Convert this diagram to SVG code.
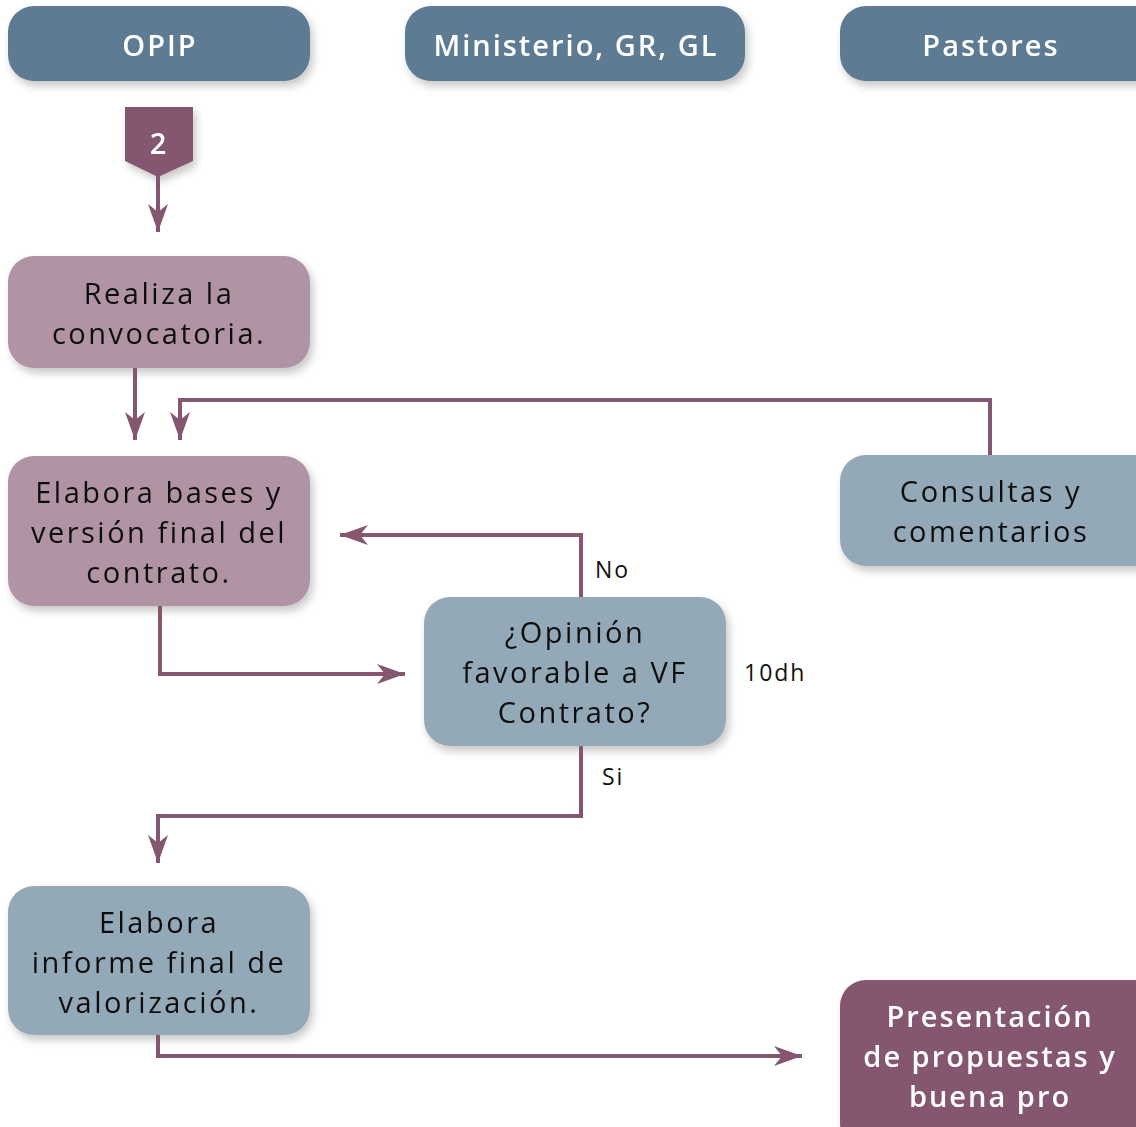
<svg xmlns="http://www.w3.org/2000/svg" width="1136" height="1127" viewBox="0 0 1136 1127">
  <defs>
    <filter id="shadow" x="-10%" y="-10%" width="125%" height="135%">
      <feDropShadow dx="3" dy="5" stdDeviation="4" flood-color="#000" flood-opacity="0.22"/>
    </filter>
    <marker id="arrow" viewBox="0 0 28 20" refX="28" refY="10" markerWidth="28" markerHeight="20" markerUnits="userSpaceOnUse" orient="auto">
      <path d="M28,10 L0,0 L8,10 L0,20 Z" fill="#84566f"/>
    </marker>
    <style>
      .lane { fill: #5d7c94; }
      .pink { fill: #b094a5; }
      .blue { fill: #94a9b8; }
      .plum { fill: #84566f; }
      .hdr { font-family: "Open Sans", "Liberation Sans", sans-serif; font-size: 29px; font-weight: 600; letter-spacing: 2px; fill: #ffffff; text-anchor: middle; }
      .txt { font-family: "Open Sans", "Liberation Sans", sans-serif; font-size: 29px; letter-spacing: 2.5px; fill: #111111; text-anchor: middle; }
      .wtxt { font-family: "Open Sans", "Liberation Sans", sans-serif; font-size: 29px; font-weight: 600; letter-spacing: 2px; fill: #ffffff; text-anchor: middle; }
      .lbl { font-family: "Open Sans", "Liberation Sans", sans-serif; font-size: 23px; letter-spacing: 2px; fill: #111111; }
      .conn { fill: none; stroke: #84566f; stroke-width: 4; marker-end: url(#arrow); }
    </style>
  </defs>

  <!-- lane headers -->
  <g id="lane-opip" filter="url(#shadow)">
    <rect class="lane" x="8" y="6" width="302" height="75" rx="26"/>
    <text class="hdr" x="160" y="56">OPIP</text>
  </g>
  <g id="lane-ministerio" filter="url(#shadow)">
    <rect class="lane" x="405" y="6" width="340" height="75" rx="26"/>
    <text class="hdr" x="576" y="56">Ministerio, GR, GL</text>
  </g>
  <g id="lane-pastores" filter="url(#shadow)">
    <rect class="lane" x="840" y="6" width="326" height="75" rx="26"/>
    <text class="hdr" x="991" y="56">Pastores</text>
  </g>

  <!-- step badge -->
  <g id="badge-2" filter="url(#shadow)">
    <path class="plum" d="M125,107 H193 V161 L158,177 L125,161 Z"/>
    <text class="wtxt" x="159" y="154" font-size="27" letter-spacing="0">2</text>
  </g>

  <!-- process nodes -->
  <g id="node-convocatoria" filter="url(#shadow)">
    <rect class="pink" x="8" y="256" width="302" height="112" rx="26"/>
    <text class="txt" x="159" y="304">Realiza la</text>
    <text class="txt" x="159" y="344">convocatoria.</text>
  </g>

  <g id="node-bases" filter="url(#shadow)">
    <rect class="pink" x="8" y="456" width="302" height="150" rx="26"/>
    <text class="txt" x="159" y="503">Elabora bases y</text>
    <text class="txt" x="159" y="543">versión final del</text>
    <text class="txt" x="159" y="583">contrato.</text>
  </g>

  <g id="node-consultas" filter="url(#shadow)">
    <rect class="blue" x="840" y="455" width="326" height="111" rx="26"/>
    <text class="txt" x="991" y="502">Consultas y</text>
    <text class="txt" x="991" y="542">comentarios</text>
  </g>

  <g id="node-opinion" filter="url(#shadow)">
    <rect class="blue" x="424" y="597" width="302" height="149" rx="26"/>
    <text class="txt" x="575" y="643">¿Opinión</text>
    <text class="txt" x="575" y="683">favorable a VF</text>
    <text class="txt" x="575" y="723">Contrato?</text>
  </g>

  <g id="node-informe" filter="url(#shadow)">
    <rect class="blue" x="8" y="886" width="302" height="149" rx="26"/>
    <text class="txt" x="159" y="933">Elabora</text>
    <text class="txt" x="159" y="973">informe final de</text>
    <text class="txt" x="159" y="1013">valorización.</text>
  </g>

  <g id="node-presentacion" filter="url(#shadow)">
    <rect class="plum" x="840" y="980" width="326" height="170" rx="26"/>
    <text class="wtxt" x="990" y="1027">Presentación</text>
    <text class="wtxt" x="990" y="1067">de propuestas y</text>
    <text class="wtxt" x="990" y="1107">buena pro</text>
  </g>

  <!-- connectors -->
  <g id="connectors">
    <path class="conn" d="M158,176 V232"/>
    <path class="conn" d="M135,368 V440"/>
    <path class="conn" d="M990,455 V400 H180 V440"/>
    <path class="conn" d="M581,597 V535 H340"/>
    <path class="conn" d="M160,606 V674 H405"/>
    <path class="conn" d="M581,746 V816 H158 V863"/>
    <path class="conn" d="M158,1035 V1056 H802"/>
  </g>

  <!-- edge labels -->
  <g id="labels">
    <text class="lbl" x="595" y="578">No</text>
    <text class="lbl" x="744" y="681">10dh</text>
    <text class="lbl" x="602" y="785">Si</text>
  </g>
</svg>
